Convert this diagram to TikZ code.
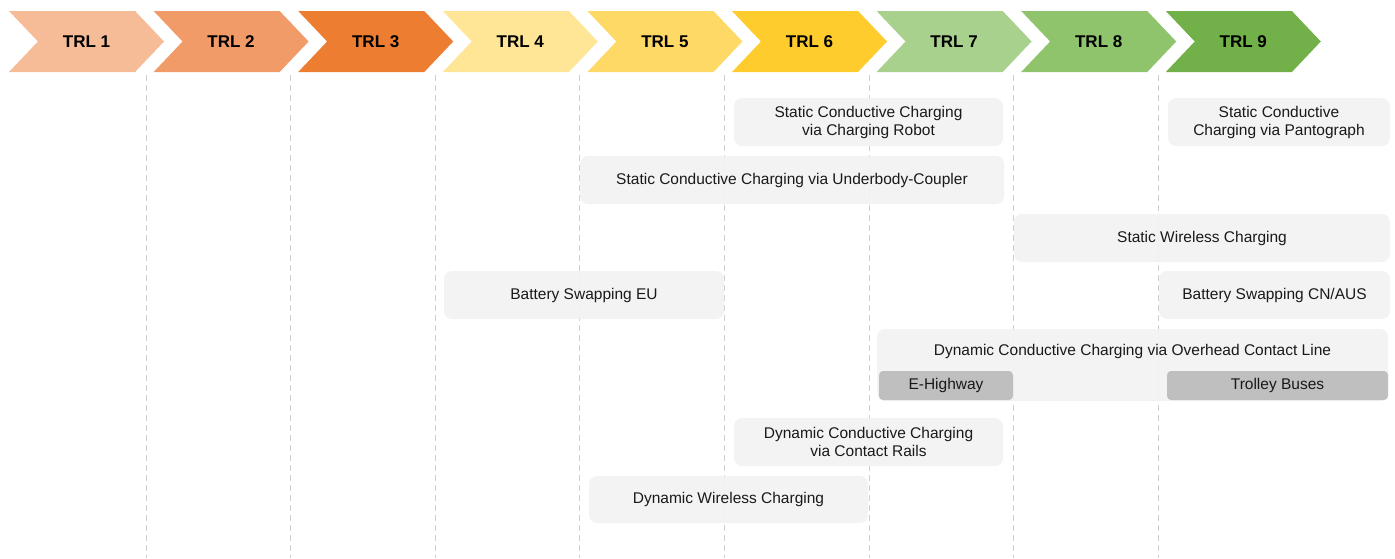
\documentclass[tikz,border=0pt]{standalone}
\usepackage{fontspec}
\setmainfont{Liberation Sans}
\usepackage{xcolor}
\usepackage{tikz}
\usetikzlibrary{shapes.symbols}

\definecolor{trlA}{HTML}{F6BC97}
\definecolor{trlB}{HTML}{F19B68}
\definecolor{trlC}{HTML}{ED7D31}
\definecolor{trlD}{HTML}{FFE596}
\definecolor{trlE}{HTML}{FFD966}
\definecolor{trlF}{HTML}{FFCC2E}
\definecolor{trlG}{HTML}{A9D18E}
\definecolor{trlH}{HTML}{8FC46D}
\definecolor{trlI}{HTML}{72B04A}
\definecolor{techgray}{HTML}{F2F2F2}
\definecolor{subgray}{HTML}{BFBFBF}
\definecolor{gridgray}{HTML}{CFCFCF}

\begin{document}
\begin{tikzpicture}[x=1pt, y=-1pt,
  trl/.style={signal, signal from=west, signal to=east, signal pointer angle=93, minimum width=155pt, minimum height=61pt, inner sep=0pt, font=\fontsize{17}{20}\selectfont\bfseries},
  grid/.style={gridgray, line width=0.9pt, dash pattern=on 6pt off 4pt},
  tech/.style={rounded corners=8pt, fill=techgray, fill opacity=0.9, text opacity=1, align=center, inner sep=0pt, text=black!90, font=\fontsize{15.5}{18}\selectfont},
  sub/.style={tech, rounded corners=4pt, fill=subgray, fill opacity=1}]
  \useasboundingbox (0,0) rectangle (1395,558);

  \foreach \i/\c in {1/trlA, 2/trlB, 3/trlC, 4/trlD, 5/trlE, 6/trlF, 7/trlG, 8/trlH, 9/trlI}
    \node[trl, fill=\c] (trl\i) at ({86.5+144.6*(\i-1)}, 41.5) {TRL \i};

  \foreach \k in {1,...,8}
    \draw[grid] ({146+144.6*(\k-1)}, 75) -- ++(0,483);

  \node[tech, minimum width=269pt, minimum height=48pt] (robot) at (868.5,122) {Static Conductive Charging\\ via Charging Robot};
  \node[tech, minimum width=222pt, minimum height=48pt] (pantograph) at (1279,122) {Static Conductive\\ Charging via Pantograph};
  \node[tech, minimum width=424pt, minimum height=48pt] (underbody) at (792,180) {Static Conductive Charging via Underbody-Coupler};
  \node[tech, minimum width=376pt, minimum height=48pt] (staticwl) at (1202,238) {Static Wireless Charging};
  \node[tech, minimum width=280pt, minimum height=48pt] (swapeu) at (584,295) {Battery Swapping EU};
  \node[tech, minimum width=231pt, minimum height=48pt] (swapcn) at (1274.5,295) {Battery Swapping CN/AUS};
  \node[tech, minimum width=511pt, minimum height=72pt] (overhead) at (1132.5,365) {};
  \node[text=black!90, font=\fontsize{15.5}{18}\selectfont] (overheadlbl) at (1132.5,351.5) {Dynamic Conductive Charging via Overhead Contact Line};
  \node[sub, minimum width=134pt, minimum height=29pt] (ehighway) at (946,385.5) {E-Highway};
  \node[sub, minimum width=221pt, minimum height=29pt] (trolley) at (1277.5,385.5) {Trolley Buses};
  \node[tech, minimum width=269pt, minimum height=48pt] (rails) at (868.5,442) {Dynamic Conductive Charging\\ via Contact Rails};
  \node[tech, minimum width=279pt, minimum height=47pt] (dynwl) at (728.5,499.5) {Dynamic Wireless Charging};
\end{tikzpicture}
\end{document}
